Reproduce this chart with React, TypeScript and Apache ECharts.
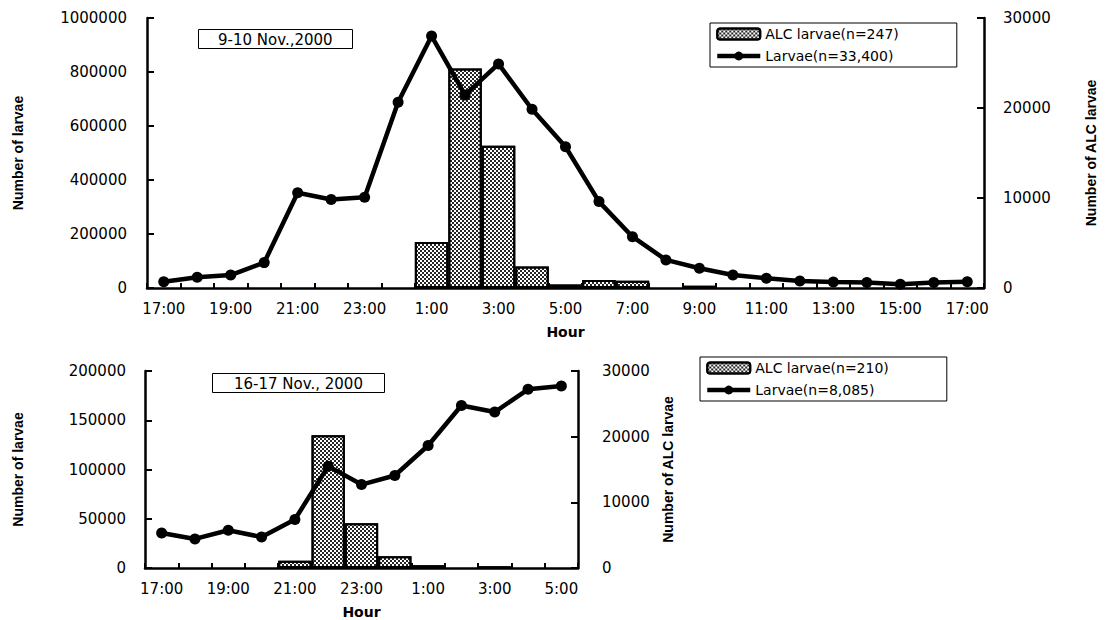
import React, { useEffect, useRef } from "react";
import * as echarts from "echarts";

const hoursTop = [
  "17:00", "18:00", "19:00", "20:00", "21:00", "22:00", "23:00", "0:00",
  "1:00", "2:00", "3:00", "4:00", "5:00", "6:00", "7:00", "8:00",
  "9:00", "10:00", "11:00", "12:00", "13:00", "14:00", "15:00", "16:00", "17:00",
];
const larvaeTop = [
  23000, 40000, 48000, 94000, 353000, 328000, 336000, 688000,
  933000, 715000, 830000, 662000, 523000, 320000, 190000, 104000,
  73000, 48000, 36000, 26000, 22000, 20000, 14000, 20000, 23000,
];
const alcTop = [
  null, null, null, null, null, null, null, null,
  5100, 24400, 15800, 2400, 400, 900, 800, null,
  250, null, null, null, null, null, null, null, null,
];

const hoursBottom = [
  "17:00", "18:00", "19:00", "20:00", "21:00", "22:00", "23:00",
  "0:00", "1:00", "2:00", "3:00", "4:00", "5:00",
];
const larvaeBottom = [
  35600, 29500, 38300, 31500, 49200, 103400, 84700,
  93900, 124400, 165000, 158300, 181400, 184700,
];
const alcBottom = [null, null, null, null, 1100, 20200, 6800, 1800, 400, null, 200, null, null];

const topTitle = "9-10 Nov.,2000";
const bottomTitle = "16-17 Nov., 2000";
const topBarName = "ALC larvae(n=247)";
const topLineName = "Larvae(n=33,400)";
const bottomBarName = "ALC larvae(n=210)";
const bottomLineName = "Larvae(n=8,085)";

const FONT = "DejaVu Sans";
const NAMEFONT = "Liberation Sans";

const decal = {
  symbol: "rect",
  symbolSize: 1,
  color: "rgba(0,0,0,0.85)",
  dashArrayX: [[1.5, 1.5], [0, 1.5, 1.5, 0]],
  dashArrayY: [1.5, 0],
  rotation: 0,
};

function xAxisCfg(gridIndex: number, data: string[]) {
  return {
    type: "category",
    gridIndex,
    data,
    boundaryGap: true,
    axisLine: { show: true, lineStyle: { color: "#000", width: 2.5 } },
    axisTick: { show: true, inside: true, length: 5, interval: 0, lineStyle: { color: "#000", width: 2 } },
    axisLabel: { interval: 1, margin: 13, fontSize: 15, color: "#000", fontFamily: FONT },
    splitLine: { show: false },
    name: "Hour",
    nameLocation: "middle",
    nameGap: 37,
    nameTextStyle: { fontSize: 14, fontWeight: "bold", color: "#000", fontFamily: FONT },
  };
}

function yAxisCfg(
  gridIndex: number,
  position: string,
  max: number,
  interval: number,
  name: string,
  nameGap: number,
  margin: number
) {
  return {
    type: "value",
    gridIndex,
    position,
    min: 0,
    max,
    interval,
    axisLine: { show: true, onZero: false, lineStyle: { color: "#000", width: 2.5 } },
    axisTick: { show: true, inside: true, length: 7, lineStyle: { color: "#000", width: 2 } },
    axisLabel: {
      margin,
      fontSize: 15,
      color: "#000",
      fontFamily: FONT,
      formatter: (v: number) => String(v),
    },
    splitLine: { show: false },
    name,
    nameLocation: "middle",
    nameRotate: 90,
    nameGap,
    nameTextStyle: { fontSize: 14, fontWeight: "bold", color: "#000", fontFamily: NAMEFONT },
  };
}

function barSeries(name: string, data: (number | null)[], xIdx: number, yIdx: number) {
  return {
    type: "bar",
    name,
    data,
    xAxisIndex: xIdx,
    yAxisIndex: yIdx,
    barCategoryGap: "0%",
    itemStyle: { color: "#fff", borderColor: "#000", borderWidth: 2, decal },
  };
}

function lineSeries(name: string, data: number[], xIdx: number, yIdx: number) {
  return {
    type: "line",
    name,
    data,
    xAxisIndex: xIdx,
    yAxisIndex: yIdx,
    symbol: "circle",
    symbolSize: 11,
    lineStyle: { color: "#000", width: 4.5 },
    itemStyle: { color: "#000" },
    z: 5,
  };
}

function legendCfg(data: string[], left: number, top: number) {
  return {
    data,
    left,
    top,
    orient: "vertical",
    borderColor: "#000",
    borderWidth: 1,
    borderRadius: 0,
    padding: [4, 58, 4, 5],
    itemGap: 8,
    itemWidth: 43,
    itemHeight: 11,
    lineStyle: { width: 4.5, color: "#000" },
    textStyle: { fontSize: 14, color: "#000", fontFamily: FONT },
  };
}

function titleCfg(text: string, left: number, top: number, padX: number) {
  return {
    text,
    left,
    top,
    borderColor: "#000",
    borderWidth: 1,
    padding: [3, padX, 2, padX],
    textStyle: { fontSize: 15, fontWeight: "normal", color: "#000", fontFamily: FONT },
  };
}

export default function App() {
  const ref = useRef<HTMLDivElement>(null);
  useEffect(() => {
    if (!ref.current) return;
    const chart = echarts.init(ref.current, undefined, { renderer: "svg" });
    chart.setOption({
      animation: false,
      backgroundColor: "#fff",
      textStyle: { fontFamily: FONT },
      title: [titleCfg(topTitle, 198, 29, 20), titleCfg(bottomTitle, 212, 373, 22)],
      legend: [
        legendCfg([topBarName, topLineName], 710, 23),
        legendCfg([bottomBarName, bottomLineName], 700, 357),
      ],
      grid: [
        { left: 147, top: 18, width: 837, height: 270, containLabel: false, outerBoundsMode: "none" },
        { left: 145, top: 371, width: 433, height: 197, containLabel: false, outerBoundsMode: "none" },
      ],
      xAxis: [xAxisCfg(0, hoursTop), xAxisCfg(1, hoursBottom)],
      yAxis: [
        yAxisCfg(0, "left", 1000000, 200000, "Number of larvae", 122, 20),
        yAxisCfg(0, "right", 30000, 10000, "Number of ALC larvae", 100, 19),
        yAxisCfg(1, "left", 200000, 50000, "Number of larvae", 120, 19),
        yAxisCfg(1, "right", 30000, 10000, "Number of ALC larvae", 83, 24),
      ],
      series: [
        barSeries(topBarName, alcTop, 0, 1),
        lineSeries(topLineName, larvaeTop, 0, 0),
        barSeries(bottomBarName, alcBottom, 1, 3),
        lineSeries(bottomLineName, larvaeBottom, 1, 2),
      ],
    });
    return () => chart.dispose();
  }, []);
  return (
    <div
      ref={ref}
      style={{ position: "absolute", left: 0, top: 0, width: 1108, height: 620 }}
    />
  );
}
